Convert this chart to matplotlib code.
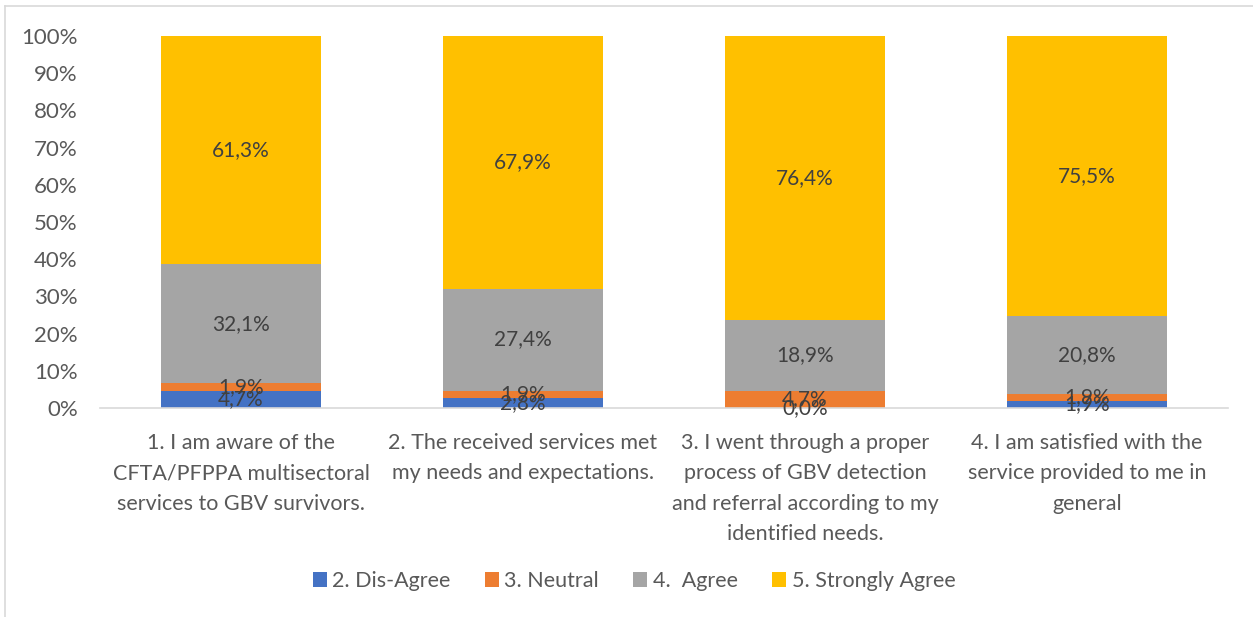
import numpy as np

import matplotlib
matplotlib.use("Agg")
import matplotlib.pyplot as plt
from matplotlib.lines import Line2D


CATEGORIES = [
    "1. I am aware of the\nCFTA/PFPPA multisectoral\nservices to GBV survivors.",
    "2. The received services met\nmy needs and expectations.",
    "3. I went through a proper\nprocess of GBV detection\nand referral according to my\nidentified needs.",
    "4. I am satisfied with the\nservice provided to me in\ngeneral",
]

SERIES_NAMES = ["2. Dis-Agree", "3. Neutral", "4.  Agree", "5. Strongly Agree"]
DISAGREE = [4.7, 2.8, 0.0, 1.9]
NEUTRAL = [1.9, 1.9, 4.7, 1.9]
AGREE = [32.1, 27.4, 18.9, 20.8]
STRONGLY_AGREE = [61.3, 67.9, 76.4, 75.5]

Y_TICKS = [0, 10, 20, 30, 40, 50, 60, 70, 80, 90, 100]

COLORS = ["#4472C4", "#ED7D31", "#A5A5A5", "#FFC000"]


def main():
    plt.rcParams["font.family"] = ["Lato", "DejaVu Sans"]

    fig = plt.figure(figsize=(12.53, 6.17), dpi=100)
    ax = fig.add_axes([100 / 1253, 1 - 408 / 617, 1128 / 1253, 372 / 617])

    x = np.arange(len(CATEGORIES))
    bottom = np.zeros(len(CATEGORIES))
    all_series = [DISAGREE, NEUTRAL, AGREE, STRONGLY_AGREE]

    for name, values, color in zip(SERIES_NAMES, all_series, COLORS):
        values = np.array(values)
        ax.bar(x, values, width=0.57, bottom=bottom, color=color, label=name)
        for xi, b, v in zip(x, bottom, values):
            ax.text(
                xi, b + v / 2, f"{v:.1f}%".replace(".", ","),
                ha="center", va="center", fontsize=15, color="#404040",
            )
        bottom = bottom + values

    ax.set_xlim(-0.5, len(CATEGORIES) - 0.5)
    ax.set_ylim(0, 100)
    ax.set_yticks(Y_TICKS)
    ax.set_yticklabels([f"{t}%" for t in Y_TICKS])
    ax.set_xticks(x)
    ax.set_xticklabels(CATEGORIES, linespacing=1.65)
    ax.tick_params(axis="both", length=0, labelsize=16, colors="#595959")
    ax.tick_params(axis="x", pad=18, labelsize=15.5)
    ax.tick_params(axis="y", pad=16)
    for lab in ax.get_xticklabels():
        lab.set_verticalalignment("top")

    for side in ["top", "right", "left"]:
        ax.spines[side].set_visible(False)
    ax.spines["bottom"].set_color("#D9D9D9")
    ax.spines["bottom"].set_linewidth(1.2)

    fig.legend(
        loc="center", bbox_to_anchor=(634 / 1253, 1 - 581 / 617),
        ncol=4, frameon=False, fontsize=15.5, labelcolor="#595959",
        handlelength=0.65, handleheight=0.65, handletextpad=0.25, columnspacing=1.6,
    )

    # chart border (only top and left edges visible in the source)
    fig.add_artist(Line2D([5 / 1253, 5 / 1253], [0, 1 - 6 / 617],
                          transform=fig.transFigure, color="#D9D9D9", linewidth=1.2))
    fig.add_artist(Line2D([5 / 1253, 1], [1 - 6 / 617, 1 - 6 / 617],
                          transform=fig.transFigure, color="#D9D9D9", linewidth=1.2))

    fig.savefig("out.png", dpi=100)
    plt.close(fig)


if __name__ == "__main__":
    main()
